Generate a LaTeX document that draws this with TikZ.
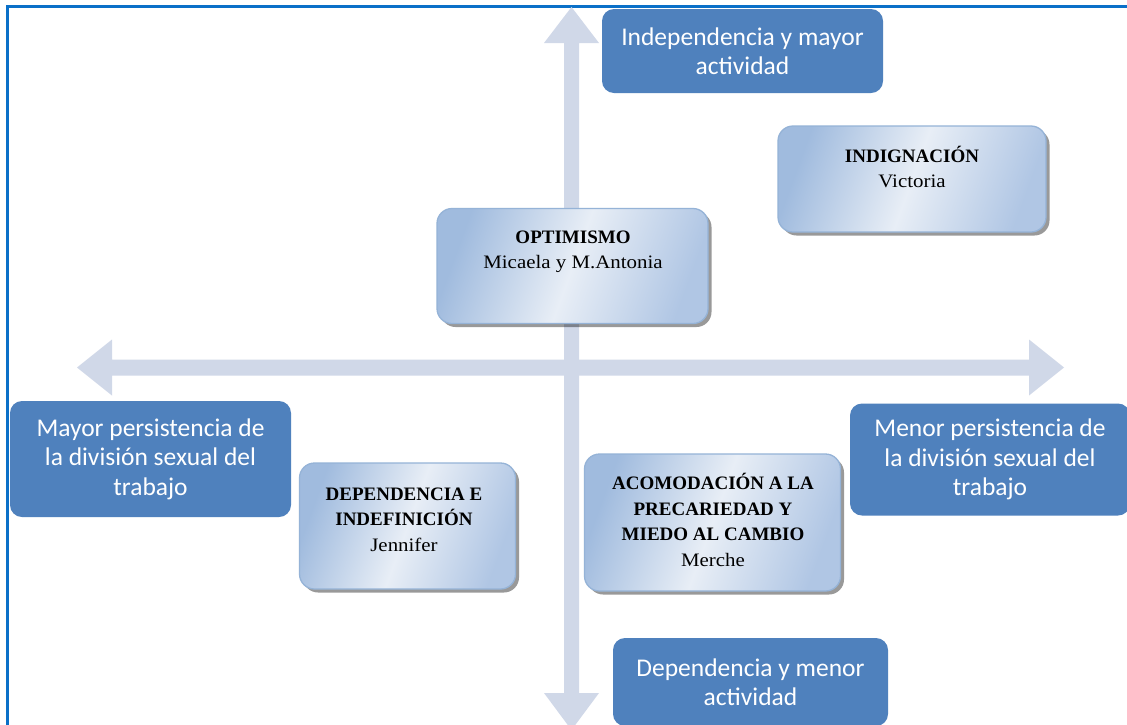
\documentclass[tikz,border=0pt]{standalone}
\usepackage{fontspec}
\usetikzlibrary{shadows}
\newfontfamily\calib{Carlito}
\newfontfamily\camb{Liberation Serif}
\newfontfamily\cambw{Liberation Serif}[FakeStretch=1.1]
\definecolor{framec}{RGB}{10,112,200}
\definecolor{axisc}{RGB}{208,216,232}
\definecolor{bluebox}{RGB}{79,129,189}
\definecolor{lborder}{RGB}{149,179,215}
\definecolor{lleft}{RGB}{160,187,222}
\definecolor{lmid}{RGB}{232,238,246}
\definecolor{lright}{RGB}{176,198,228}
\tikzset{
  bbox/.style={rectangle, rounded corners=12pt, fill=bluebox, draw=none, text=white,
    inner sep=0pt, align=center, font=\calib\fontsize{25.5}{29.5}\selectfont},
  lbox/.style={rectangle, rounded corners=15pt, draw=lborder, line width=1.3pt,
    left color=lleft, right color=lright, middle color=lmid, shading angle=70,
    drop shadow={shadow xshift=3.5pt, shadow yshift=-3.5pt, fill=black, opacity=0.4},
    inner sep=0pt},
  ltext/.style={inner sep=0pt, align=center, font=\camb\fontsize{19}{25.5}\selectfont}
}
\begin{document}
\begin{tikzpicture}[x=1pt,y=-1pt]
\useasboundingbox (0,0) rectangle (1127,724);
\clip (0,0) rectangle (1127,724);
\fill[white] (0,0) rectangle (1127,724);
% frame
\draw[framec, line width=2.5pt] (7.5,6.5) rectangle (1145,745);
% axes
\fill[axisc] (571.5,7) -- (599,43) -- (579,43) -- (579,693) -- (599,693) -- (571.5,730)
  -- (544,693) -- (564,693) -- (564,43) -- (544,43) -- cycle;
\fill[axisc] (77,367.5) -- (112,339.5) -- (112,359.5) -- (1029,359.5) -- (1029,339.5)
  -- (1064,367.5) -- (1029,395.5) -- (1029,375.5) -- (112,375.5) -- (112,395.5) -- cycle;
% blue boxes
\node[bbox, minimum width=281pt, minimum height=84pt] (up) at (742.5,51)
  {Independencia y mayor\\actividad};
\node[bbox, minimum width=281pt, minimum height=116pt] (left) at (150.5,459)
  {Mayor persistencia de\\la división sexual del\\trabajo};
\node[bbox, minimum width=280pt, minimum height=112pt] (right) at (990,459.5)
  {Menor persistencia de\\la división sexual del\\trabajo};
\node[bbox, minimum width=275pt, minimum height=88pt] (down) at (750.5,682)
  {Dependencia y menor\\actividad};
% light boxes
\node[lbox, minimum width=271pt, minimum height=115pt] (opt) at (572.5,266) {};
\node[lbox, minimum width=268pt, minimum height=106pt] (ind) at (912,179) {};
\node[lbox, minimum width=216pt, minimum height=126pt] (dep) at (407.5,526) {};
\node[lbox, minimum width=256pt, minimum height=137pt] (aco) at (712.5,522.5) {};
% texts
\node[ltext] (optt) at (573,252) {\bfseries OPTIMISMO\\{\cambw Micaela y M.Antonia}};
\node[ltext] (indt) at (912,167) {\bfseries INDIGNACIÓN\\{\cambw Victoria}};
\node[ltext] (dept) at (404,519.5) {\bfseries DEPENDENCIA E\\\bfseries INDEFINICIÓN\\{\cambw Jennifer}};
\node[ltext] (acot) at (713,520) {\bfseries ACOMODACIÓN A LA\\\bfseries PRECARIEDAD Y\\\bfseries MIEDO AL CAMBIO\\{\cambw Merche}};
\end{tikzpicture}
\end{document}
